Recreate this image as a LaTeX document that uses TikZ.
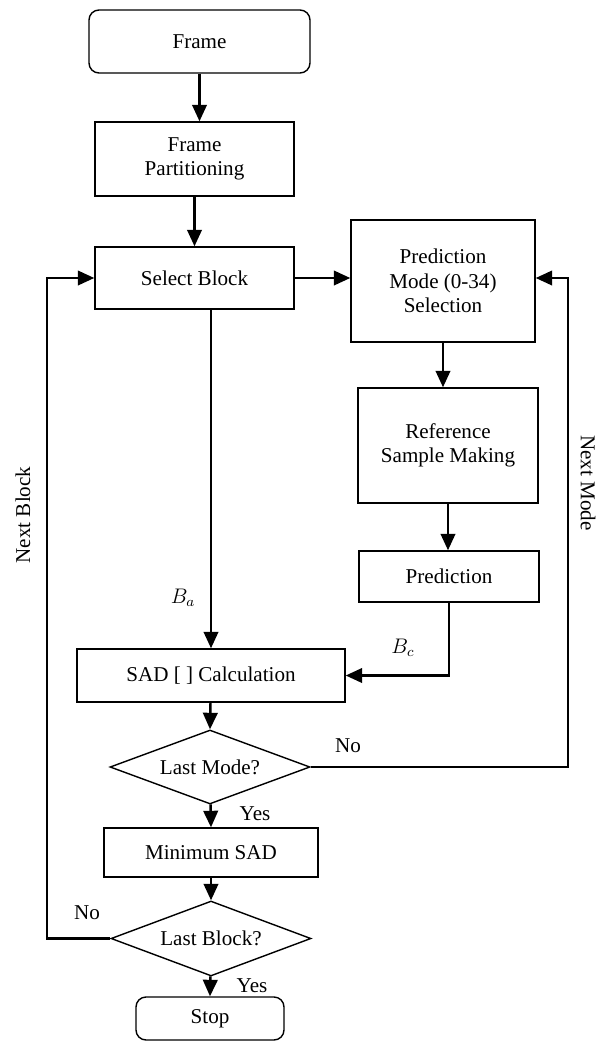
\documentclass[tikz,border=0pt]{standalone}
\usepackage{amsmath,amssymb}
\usepackage{fontspec}
\setmainfont{Liberation Serif}
\usepackage{tikz}
\usetikzlibrary{arrows.meta,shapes.geometric}
\usepackage{xcolor}

\begin{document}
\begin{tikzpicture}[>={Triangle[length=3.3mm,width=2.9mm]},font=\fontsize{12}{14}\selectfont,
  box/.style={draw,line width=0.8pt,align=center,inner sep=0pt},
  term/.style={box,rounded corners=0.2cm},
  decision/.style={draw,line width=0.8pt,diamond,aspect=2.7,inner sep=0pt},
  flow/.style={->,line width=1.4pt}]
\useasboundingbox (0,0) rectangle (12.08,-20.86);
% left column
\node[term,minimum width=4.42cm,minimum height=1.26cm] (frame) at (3.99,-0.83) {Frame};
\node[box,minimum width=3.98cm,minimum height=1.48cm] (part) at (3.89,-3.18) {Frame\\Partitioning};
\node[box,minimum width=3.98cm,minimum height=1.24cm] (select) at (3.89,-5.56) {Select Block};
% right column
\node[box,minimum width=3.68cm,minimum height=2.44cm] (predmode) at (8.86,-5.62) {Prediction\\Mode (0-34)\\Selection};
\node[box,minimum width=3.6cm,minimum height=2.3cm] (refsample) at (8.96,-8.91) {Reference\\Sample Making};
\node[box,minimum width=3.6cm,minimum height=1.02cm] (pred) at (8.98,-11.53) {Prediction};
% bottom part
\node[box,minimum width=5.36cm,minimum height=1.06cm] (sad) at (4.22,-13.51) {SAD [ ] Calculation};
\node[decision,minimum width=4.0cm,minimum height=1.48cm] (lastmode) at (4.2,-15.34) {Last Mode?};
\node[box,minimum width=4.28cm,minimum height=0.98cm] (minsad) at (4.22,-17.05) {Minimum SAD};
\node[decision,minimum width=4.0cm,minimum height=1.5cm] (lastblock) at (4.22,-18.77) {Last Block?};
\node[term,minimum width=2.96cm,minimum height=0.86cm] (stop) at (4.2,-20.37) {Stop};
% loop corners
\coordinate (nextmode) at (11.36,0);
\coordinate (nextblock) at (0.94,0);
% connectors
\draw[flow] (frame) -- (frame |- part.north);
\draw[flow] (part) -- (part |- select.north);
\draw[flow] (select.east) -- (select.east -| predmode.west);
\draw[flow] (predmode) -- (predmode |- refsample.north);
\draw[flow] (refsample) -- (refsample |- pred.north);
\draw[flow] (pred.south) |- (sad.east);
\draw[flow] (sad.north |- select.south) -- (sad.north);
\draw[flow] (sad) -- (lastmode.north);
\draw[flow] (lastmode) -- (minsad.north);
\draw[flow] (minsad) -- (lastblock.north);
\draw[flow] (lastblock) -- (stop.north);
\draw[flow] (lastmode.east) -| (nextmode |- select.east) -- (predmode.east |- select.east);
\draw[flow] (lastblock.west) -| (nextblock |- select.west) -- (select.west);
% labels
\node (ba) at (3.66,-11.96) {$B_a$};
\node (bc) at (8.06,-12.96) {$B_c$};
\node (nomode) at (6.96,-14.92) {No};
\node (yesmode) at (5.1,-16.28) {Yes};
\node (noblock) at (1.74,-18.26) {No};
\node (yesblock) at (5.04,-19.72) {Yes};
\node[rotate=-90] (nmlabel) at (11.76,-9.66) {Next Mode};
\node[rotate=90] (nblabel) at (0.46,-10.3) {Next Block};
\end{tikzpicture}
\end{document}
